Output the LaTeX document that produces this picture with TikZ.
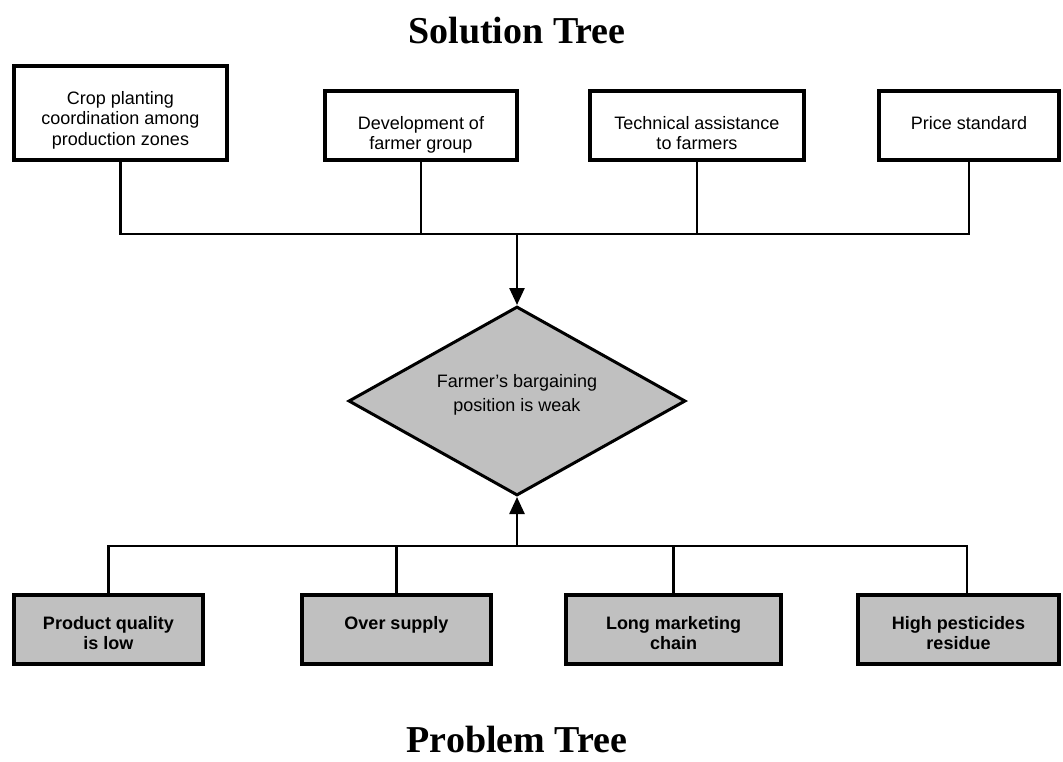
\documentclass[tikz,border=0pt]{standalone}
\usepackage{fontspec}
\usetikzlibrary{arrows.meta,shapes.geometric}
\newfontfamily\boxfont{Liberation Sans}
\newfontfamily\headfont{Liberation Serif}
\definecolor{boxgray}{HTML}{C0C0C0}
\begin{document}
\begin{tikzpicture}[x=1pt,y=-1pt,
  sbox/.style={draw, line width=4pt, fill=white, inner sep=0pt, minimum height=69pt},
  pbox/.style={draw, line width=4pt, fill=boxgray, inner sep=0pt, minimum height=69pt},
  stxt/.style={inner sep=0pt, align=center, anchor=north,
    font=\boxfont\fontsize{18}{20.5}\selectfont},
  ptxt/.style={stxt, font=\boxfont\bfseries\fontsize{18}{20.5}\selectfont},
  dtxt/.style={stxt, anchor=center, font=\boxfont\fontsize{18}{24}\selectfont},
  link/.style={draw, line width=2.5pt},
  tip/.style={link, -{Triangle[width=15pt,length=17pt]}},
  heading/.style={inner sep=0pt, anchor=base, font=\headfont\bfseries\fontsize{38}{42}\selectfont}
]
\useasboundingbox (0,0) rectangle (1063,761);

% titles
\node[heading] (soltitle) at (517,43) {Solution Tree};
\node[heading] (probtitle) at (517,752) {Problem Tree};

% solution boxes
\node[sbox, minimum width=213pt, minimum height=94pt] (s1) at (120.5,113) {};
\node[sbox, minimum width=192pt] (s2) at (421,125.5) {};
\node[sbox, minimum width=214pt] (s3) at (697,125.5) {};
\node[sbox, minimum width=180pt] (s4) at (969,125.5) {};
\node[stxt] (s1t) at ([yshift=-27pt]s1.north) {Crop planting\\coordination among\\production zones};
\node[stxt] (s2t) at ([yshift=-27pt]s2.north) {Development of\\farmer group};
\node[stxt] (s3t) at ([yshift=-27pt]s3.north) {Technical assistance\\to farmers};
\node[stxt] (s4t) at ([yshift=-27pt]s4.north) {Price standard};

% central problem
\node[diamond, draw, line width=3pt, fill=boxgray, inner sep=0pt,
      minimum width=337pt, minimum height=189pt] (d) at (517,401) {};
\node[dtxt] (dt) at ([yshift=6pt]d.center) {Farmer’s bargaining\\position is weak};

% problem boxes
\node[pbox, minimum width=189pt] (p1) at (108.5,629.5) {};
\node[pbox, minimum width=189pt] (p2) at (396.5,629.5) {};
\node[pbox, minimum width=215pt] (p3) at (673.5,629.5) {};
\node[pbox, minimum width=201pt] (p4) at (958.5,629.5) {};
\node[ptxt] (p1t) at ([yshift=-23pt]p1.north) {Product quality\\is low};
\node[ptxt] (p2t) at ([yshift=-23pt]p2.north) {Over supply};
\node[ptxt] (p3t) at ([yshift=-23pt]p3.north) {Long marketing\\chain};
\node[ptxt] (p4t) at ([yshift=-23pt]p4.north) {High pesticides\\residue};

% solution bus
\coordinate (tj) at (517,234);
\path[link] (s1.south) |- (tj) -| (s4.south);
\path[link] (s2.south) -- (s2.south |- tj);
\path[link] (s3.south) -- (s3.south |- tj);
\path[tip] (tj) -- (d.north);

% problem bus
\coordinate (bj) at (517,546);
\coordinate (p4s) at ([xshift=8.5pt]p4.north);
\path[link] (p1.north) |- (bj) -| (p4s);
\path[link] (p2.north) -- (p2.north |- bj);
\path[link] (p3.north) -- (p3.north |- bj);
\path[tip] (bj) -- (d.south);
\end{tikzpicture}
\end{document}
